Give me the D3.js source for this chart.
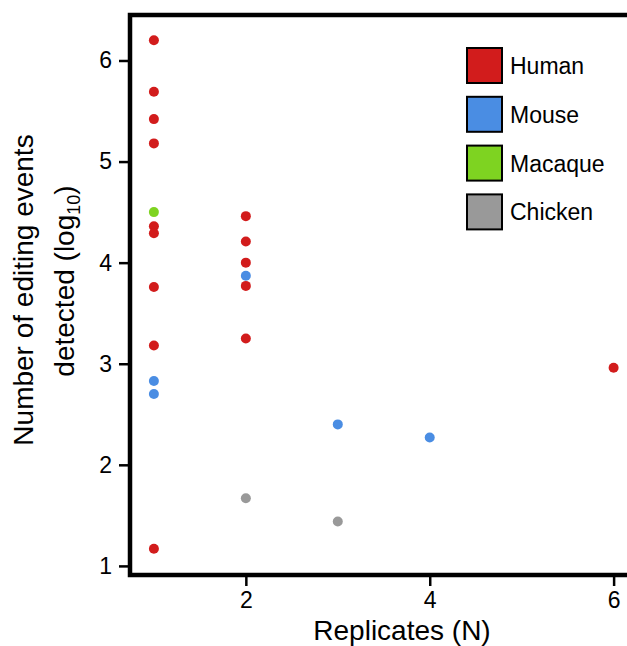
<!DOCTYPE html>
<html>
<head>
<meta charset="utf-8">
<script src="https://cdn.jsdelivr.net/npm/d3@7"></script>
<style>
  body { margin: 0; background: #fff; }
  text { font-family: "Liberation Sans", Arial, sans-serif; fill: #000; }
</style>
</head>
<body>
<div id="chart"></div>
<script>
// species and colours
var species = ['Human', 'Mouse', 'Macaque', 'Chicken'];
var speciesColors = ['#d21c1c', '#4a8de3', '#7ed321', '#999999'];

// replicates (N) and log10 number of editing events, per study
var replicates = [1, 1, 1, 1, 1, 1, 1, 1, 1, 1, 1, 1,
                  2, 2, 2, 2, 2, 2, 2,
                  3, 3, 4, 6];
var logEvents  = [6.20, 5.69, 5.42, 5.18, 4.50, 4.36, 4.29, 3.76, 3.18, 2.83, 2.70, 1.17,
                  4.46, 4.21, 4.00, 3.87, 3.77, 3.25, 1.67,
                  2.40, 1.44, 2.27, 2.96];
var pointSpecies = ['Human', 'Human', 'Human', 'Human', 'Macaque', 'Human', 'Human', 'Human', 'Human', 'Mouse', 'Mouse', 'Human',
                    'Human', 'Human', 'Human', 'Mouse', 'Human', 'Human', 'Chicken',
                    'Mouse', 'Chicken', 'Mouse', 'Human'];

var xTicks = [2, 4, 6];
var yTicks = [1, 2, 3, 4, 5, 6];

var W = 627, H = 646;
var margin = {top: 15, left: 130, bottom: 71, right: -5};

var svg = d3.select('#chart').append('svg')
  .attr('width', W)
  .attr('height', H);

var x = d3.scaleLinear()
  .domain([0.74, 6.2])
  .range([margin.left, W - margin.right]);
var y = d3.scaleLinear()
  .domain([0.91, 6.45])
  .range([H - margin.bottom, margin.top]);
var color = d3.scaleOrdinal()
  .domain(species)
  .range(speciesColors);

var data = replicates.map(function(d, i) {
  return {n: d, v: logEvents[i], s: pointSpecies[i]};
});

// points
svg.append('g')
  .selectAll('circle')
  .data(data)
  .enter().append('circle')
  .attr('cx', function(d) { return x(d.n); })
  .attr('cy', function(d) { return y(d.v); })
  .attr('r', 5)
  .style('fill', function(d) { return color(d.s); });

// frame
svg.append('rect')
  .attr('x', margin.left)
  .attr('y', margin.top)
  .attr('width', W - margin.right - margin.left + 20)
  .attr('height', H - margin.bottom - margin.top)
  .style('fill', 'none')
  .style('stroke', '#000')
  .style('stroke-width', 4.5);

// axes
var yAxis = svg.append('g')
  .attr('transform', 'translate(' + (margin.left - 2) + ',0)')
  .call(d3.axisLeft(y).tickValues(yTicks).tickFormat(d3.format('d'))
    .tickSize(9).tickSizeOuter(0).tickPadding(7));
var xAxis = svg.append('g')
  .attr('transform', 'translate(0,' + (H - margin.bottom + 2) + ')')
  .call(d3.axisBottom(x).tickValues(xTicks).tickFormat(d3.format('d'))
    .tickSize(9).tickSizeOuter(0).tickPadding(6));

[yAxis, xAxis].forEach(function(a) {
  a.attr('font-size', 23).attr('font-family', '"Liberation Sans", Arial, sans-serif');
  a.select('.domain').remove();
  a.selectAll('.tick line').style('stroke', '#000').style('stroke-width', 2.5);
  a.selectAll('.tick text')
    .style('font-size', '23px')
    .style('fill', '#000');
});

// axis titles
svg.append('text')
  .attr('x', 402)
  .attr('y', 640)
  .attr('text-anchor', 'middle')
  .style('font-size', '28px')
  .text('Replicates (N)');

svg.append('text')
  .attr('transform', 'translate(33,290) rotate(-90)')
  .attr('text-anchor', 'middle')
  .style('font-size', '28px')
  .text('Number of editing events');

var t2 = svg.append('text')
  .attr('transform', 'translate(74,281) rotate(-90)')
  .attr('text-anchor', 'middle')
  .style('font-size', '28px');
t2.append('tspan').text('detected (log');
t2.append('tspan').attr('dy', 6).style('font-size', '18px').text('10');
t2.append('tspan').attr('dy', -6).text(')');

// legend
var legend = svg.selectAll('.legend')
  .data(species)
  .enter().append('g')
  .attr('class', 'legend')
  .attr('transform', function(d, i) { return 'translate(467,' + (48 + i * 48.8) + ')'; });

legend.append('rect')
  .attr('width', 35)
  .attr('height', 35)
  .style('fill', function(d) { return color(d); })
  .style('stroke', '#000')
  .style('stroke-width', 2);

legend.append('text')
  .attr('x', 43)
  .attr('y', 26)
  .style('font-size', '23px')
  .text(function(d) { return d; });
</script>
</body>
</html>
